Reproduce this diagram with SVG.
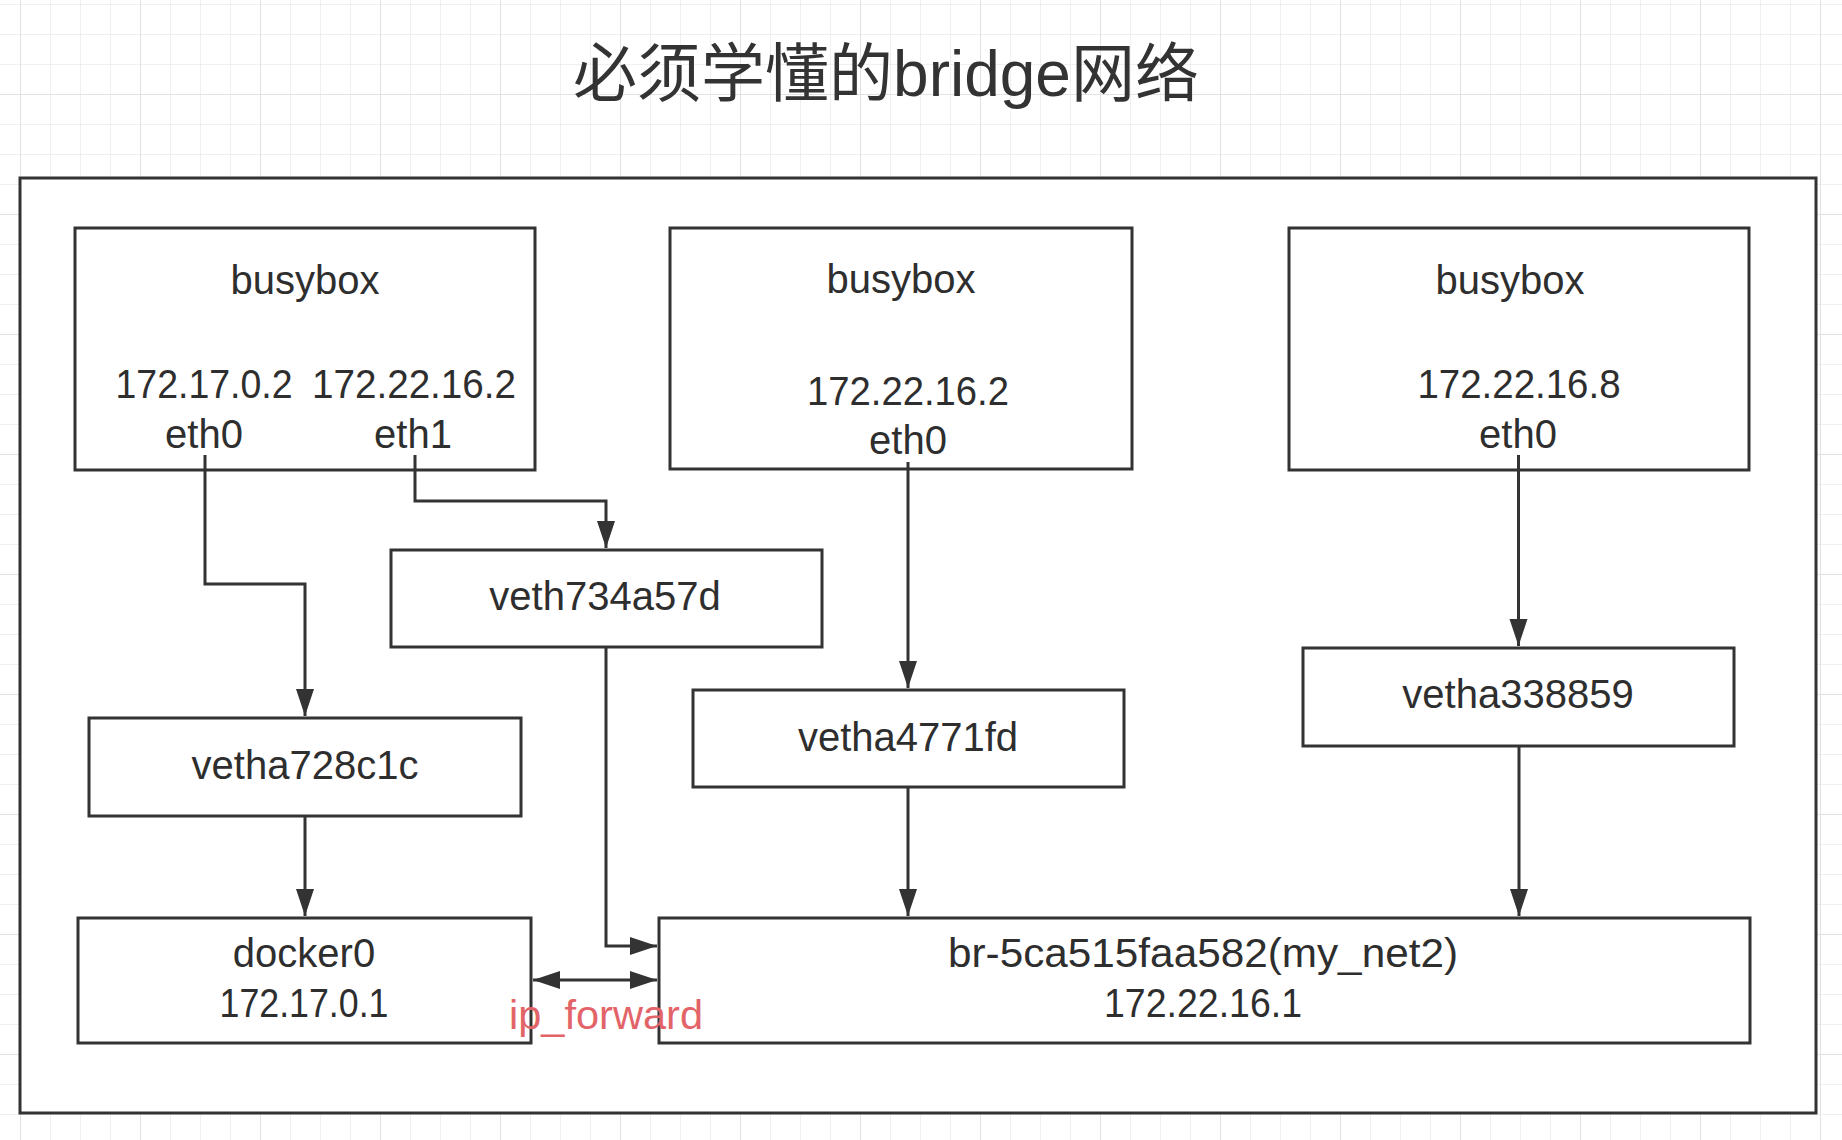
<svg xmlns="http://www.w3.org/2000/svg" width="1842" height="1140" viewBox="0 0 1842 1140">
<style>
.box{fill:#fff;stroke:#333;stroke-width:3}
.t{font-family:"Liberation Sans","Noto Sans",Arial,sans-serif;font-size:40px;fill:#2e2e2e;text-anchor:middle}
.title{font-family:"Liberation Sans","Noto Sans CJK SC",sans-serif;font-size:64px;fill:#333;text-anchor:middle}
.red{font-family:"Liberation Sans","Noto Sans",Arial,sans-serif;font-size:41px;fill:#e36468}
.c{fill:none;stroke:#333;stroke-width:3}
</style>
<defs>
<pattern id="gMinor" x="20" y="4" width="30" height="30" patternUnits="userSpaceOnUse">
<path d="M0 0H30M0 0V30" fill="none" stroke="#ececec" stroke-width="1.5"/>
</pattern>
<pattern id="gMajor" x="20" y="94" width="120" height="120" patternUnits="userSpaceOnUse">
<path d="M0 0H120M0 0V120" fill="none" stroke="#dedede" stroke-width="1.5"/>
</pattern>
<marker id="arr" markerUnits="userSpaceOnUse" markerWidth="28" markerHeight="20" refX="27" refY="10" orient="auto-start-reverse" viewBox="0 0 28 20">
<path d="M0 1L27 10L0 19Z" fill="#333"/>
</marker>
</defs>
<rect width="1842" height="1140" fill="#fff"/>
<rect width="1842" height="1140" fill="url(#gMinor)"/>
<rect width="1842" height="1140" fill="url(#gMajor)"/>
<text class="title" x="886" y="96">必须学懂的bridge网络</text>
<rect id="outer" class="box" x="20" y="178" width="1796" height="935"/>
<g id="box1">
<rect class="box" x="75" y="228" width="460" height="242"/>
<text class="t" x="305" y="294">busybox</text>
<text class="t" x="204" y="398" textLength="177" lengthAdjust="spacingAndGlyphs">172.17.0.2</text>
<text class="t" x="414" y="398" textLength="204" lengthAdjust="spacingAndGlyphs">172.22.16.2</text>
<text class="t" x="204" y="448">eth0</text>
<text class="t" x="413" y="448">eth1</text>
</g>
<g id="box2">
<rect class="box" x="670" y="228" width="462" height="241"/>
<text class="t" x="901" y="293">busybox</text>
<text class="t" x="908" y="405" textLength="202" lengthAdjust="spacingAndGlyphs">172.22.16.2</text>
<text class="t" x="908" y="454">eth0</text>
</g>
<g id="box3">
<rect class="box" x="1289" y="228" width="460" height="242"/>
<text class="t" x="1510" y="294">busybox</text>
<text class="t" x="1519" y="398" textLength="203" lengthAdjust="spacingAndGlyphs">172.22.16.8</text>
<text class="t" x="1518" y="448">eth0</text>
</g>
<g id="veth734a57d">
<rect class="box" x="391" y="550" width="431" height="97"/>
<text class="t" x="605" y="610">veth734a57d</text>
</g>
<g id="vetha728c1c">
<rect class="box" x="89" y="718" width="432" height="98"/>
<text class="t" x="305" y="779">vetha728c1c</text>
</g>
<g id="vetha4771fd">
<rect class="box" x="693" y="690" width="431" height="97"/>
<text class="t" x="908" y="751">vetha4771fd</text>
</g>
<g id="vetha338859">
<rect class="box" x="1303" y="648" width="431" height="98"/>
<text class="t" x="1518" y="708">vetha338859</text>
</g>
<g id="docker0">
<rect class="box" x="78" y="918" width="453" height="125"/>
<text class="t" x="304" y="967">docker0</text>
<text class="t" x="304" y="1017" textLength="169" lengthAdjust="spacingAndGlyphs">172.17.0.1</text>
</g>
<g id="br">
<rect class="box" x="659" y="918" width="1091" height="125"/>
<text class="t" x="1203" y="967" textLength="510" lengthAdjust="spacingAndGlyphs">br-5ca515faa582(my_net2)</text>
<text class="t" x="1203" y="1017" textLength="198" lengthAdjust="spacingAndGlyphs">172.22.16.1</text>
</g>
<g id="connectors">
<path class="c" d="M205 455V584H305V716" marker-end="url(#arr)"/>
<path class="c" d="M415 455V501H606V548" marker-end="url(#arr)"/>
<path class="c" d="M908 462V688" marker-end="url(#arr)"/>
<path class="c" d="M1518.5 455V646" marker-end="url(#arr)"/>
<path class="c" d="M606 647V946H657" marker-end="url(#arr)"/>
<path class="c" d="M305 816V916" marker-end="url(#arr)"/>
<path class="c" d="M908 787V916" marker-end="url(#arr)"/>
<path class="c" d="M1519 746V916" marker-end="url(#arr)"/>
<path class="c" d="M533 980H657" marker-start="url(#arr)" marker-end="url(#arr)"/>
<text class="red" x="509" y="1029" textLength="194" lengthAdjust="spacingAndGlyphs">ip_forward</text>
</g>
</svg>
